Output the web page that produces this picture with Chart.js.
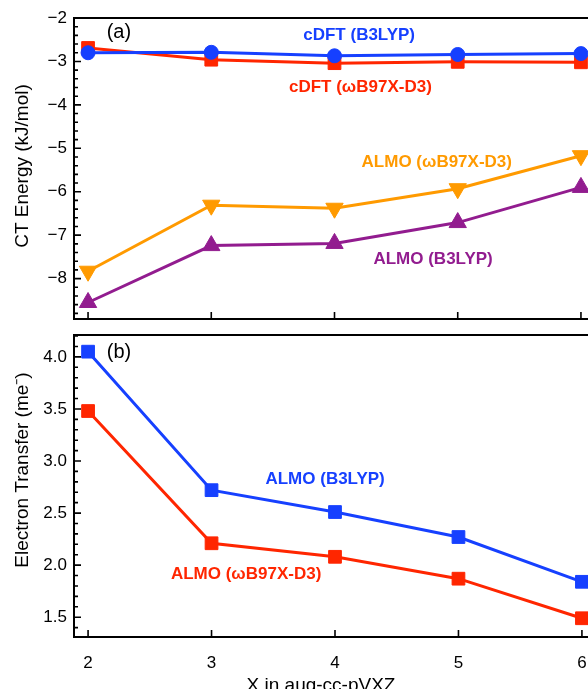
<!DOCTYPE html>
<html lang="en">
  <head>
    <meta charset="UTF-8" />
    <title>CT energy and electron transfer</title>
    <style>
      body {
        margin: 0;
        background: #fff;
        overflow: hidden;
      }
      #wrap {
        position: relative;
        width: 588px;
        height: 689px;
        overflow: hidden;
      }
      canvas {
        position: absolute;
        left: 0;
      }
      #top {
        top: 0;
      }
      #bot {
        top: 325px;
      }
    </style>
    <script src="https://cdn.jsdelivr.net/npm/chart.js"></script>
  </head>
  <body>
    <div id="wrap">
      <canvas id="top" width="606" height="330"></canvas>
      <canvas id="bot" width="606" height="364"></canvas>
    </div>
    <script>
      // basis set cardinal number X
      const basis = [2, 3, 4, 5, 6];
      // (a) CT energy, kJ/mol
      const cdftB3lyp = [-2.8, -2.79, -2.87, -2.84, -2.82];
      const cdftWb97 = [-2.69, -2.96, -3.04, -3.01, -3.02];
      const almoWb97 = [-7.83, -6.31, -6.38, -5.93, -5.17];
      const almoB3lyp = [-8.55, -7.24, -7.19, -6.71, -5.9];
      // (b) electron transfer, me-
      const etB3lyp = [4.05, 2.72, 2.51, 2.27, 1.84];
      const etWb97 = [3.48, 2.21, 2.08, 1.87, 1.49];

      const xTicks = [2, 3, 4, 5, 6];
      const energyTicks = [-8, -7, -6, -5, -4, -3, -2];
      const transferTicks = [1.5, 2.0, 2.5, 3.0, 3.5, 4.0];

      const BLUE = "#1640ff";
      const RED = "#ff2600";
      const ORANGE = "#ff9a00";
      const PURPLE = "#921c8f";
      const FONT = "'Liberation Sans', Arial, Helvetica, sans-serif";

      const pts = (ys) => basis.map((x, i) => ({ x, y: ys[i] }));

      const series = (data, color, style, radius, rotation) => ({
        data: pts(data),
        borderColor: color,
        backgroundColor: color,
        borderWidth: 3,
        pointStyle: style,
        pointRadius: radius,
        pointRotation: rotation || 0,
        pointBorderWidth: 1,
        pointBackgroundColor: color,
        pointBorderColor: color,
      });

      // frame, inward ticks, in-plot labels and axis titles
      const panelDecor = {
        id: "panelDecor",
        afterDraw(chart, args, opts) {
          const { ctx, chartArea: a } = chart;
          const x = chart.scales.x;
          const y = chart.scales.y;
          ctx.save();
          ctx.strokeStyle = "#000";
          ctx.lineWidth = 2;
          ctx.strokeRect(a.left, a.top, a.right - a.left, a.bottom - a.top);

          ctx.lineWidth = 1.6;
          ctx.beginPath();
          xTicks.forEach((v) => {
            const px = x.getPixelForValue(v);
            ctx.moveTo(px, a.bottom);
            ctx.lineTo(px, a.bottom - 7);
          });
          const step = opts.minorStep;
          for (let n = Math.ceil(y.min / step); n * step <= y.max + 1e-9; n++) {
            const v = n * step;
            const major = opts.majors.some((m) => Math.abs(m - v) < 1e-6);
            const py = y.getPixelForValue(v);
            ctx.moveTo(a.left, py);
            ctx.lineTo(a.left + (major ? 7 : 4), py);
          }
          ctx.stroke();

          ctx.textAlign = "center";
          ctx.textBaseline = "middle";
          opts.labels.forEach((l) => {
            ctx.fillStyle = l.color;
            ctx.font = l.font;
            ctx.fillText(l.text, x.getPixelForValue(l.x), y.getPixelForValue(l.y));
          });

          ctx.fillStyle = "#000";
          ctx.font = "19px " + FONT;
          opts.titles.forEach((t) => {
            ctx.save();
            ctx.translate(t.px, t.py);
            ctx.rotate(t.rot || 0);
            ctx.fillText(t.text, 0, 0);
            ctx.restore();
          });
          ctx.restore();
        },
      };

      const xScale = (show) => ({
        type: "linear",
        min: 1.886,
        max: 6.114,
        display: show,
        afterBuildTicks: (s) => {
          s.ticks = xTicks.map((v) => ({ value: v }));
        },
        afterFit: (s) => {
          s.height = show ? 52 : 0;
          s.paddingLeft = 0;
          s.paddingRight = 0;
        },
        grid: { display: false, drawTicks: false },
        border: { display: false },
        ticks: {
          color: "#000",
          padding: 16,
          maxRotation: 0,
          font: { family: FONT, size: 17 },
        },
      });

      const yScale = (min, max, tickList, fmt) => ({
        type: "linear",
        min,
        max,
        afterBuildTicks: (s) => {
          s.ticks = tickList.map((v) => ({ value: v }));
        },
        afterFit: (s) => {
          s.width = 74;
          s.paddingTop = 0;
          s.paddingBottom = 0;
        },
        grid: { display: false, drawTicks: false },
        border: { display: false },
        ticks: {
          color: "#000",
          padding: 7,
          font: { family: FONT, size: 17 },
          callback: fmt,
        },
      });

      const bold = "bold 17px " + FONT;
      const plain = "20px " + FONT;

      new Chart(document.getElementById("top"), {
        type: "line",
        data: {
          datasets: [
            series(cdftB3lyp, BLUE, "circle", 7),
            series(cdftWb97, RED, "rect", 9),
            series(almoWb97, ORANGE, "triangle", 10, 180),
            series(almoB3lyp, PURPLE, "triangle", 10),
          ],
        },
        options: {
          responsive: false,
          animation: false,
          layout: { padding: { top: 18, right: 5, bottom: 10, left: 0 } },
          scales: {
            x: xScale(false),
            y: yScale(-8.93, -2, energyTicks, (v) =>
              v < 0 ? "\u2212" + Math.abs(v) : String(v)
            ),
          },
          plugins: {
            legend: { display: false },
            tooltip: { enabled: false },
            panelDecor: {
              minorStep: 0.2,
              majors: energyTicks,
              labels: [
                { text: "(a)", x: 2.25, y: -2.34, color: "#000", font: plain },
                { text: "cDFT (B3LYP)", x: 4.2, y: -2.39, color: BLUE, font: bold },
                { text: "cDFT (\u03c9B97X-D3)", x: 4.21, y: -3.6, color: RED, font: bold },
                { text: "ALMO (\u03c9B97X-D3)", x: 4.83, y: -5.33, color: ORANGE, font: bold },
                { text: "ALMO (B3LYP)", x: 4.8, y: -7.55, color: PURPLE, font: bold },
              ],
              titles: [
                { text: "CT Energy (kJ/mol)", px: 23, py: 166, rot: -Math.PI / 2 },
              ],
            },
          },
        },
        plugins: [panelDecor],
      });

      new Chart(document.getElementById("bot"), {
        type: "line",
        data: {
          datasets: [
            series(etB3lyp, BLUE, "rect", 9),
            series(etWb97, RED, "rect", 9),
          ],
        },
        options: {
          responsive: false,
          animation: false,
          layout: { padding: { top: 5, right: 5, bottom: 0, left: 0 } },
          scales: {
            x: xScale(true),
            y: yScale(1.31, 4.21, transferTicks, (v) => v.toFixed(1)),
          },
          plugins: {
            legend: { display: false },
            tooltip: { enabled: false },
            panelDecor: {
              minorStep: 0.1,
              majors: transferTicks,
              labels: [
                { text: "(b)", x: 2.25, y: 4.04, color: "#000", font: plain },
                { text: "ALMO (B3LYP)", x: 3.92, y: 2.82, color: BLUE, font: bold },
                { text: "ALMO (\u03c9B97X-D3)", x: 3.28, y: 1.91, color: RED, font: bold },
              ],
              titles: [
                { text: "Electron Transfer (me\u207b)", px: 23, py: 145, rot: -Math.PI / 2 },
                { text: "X in aug-cc-pVXZ", px: 321, py: 361 },
              ],
            },
          },
        },
        plugins: [panelDecor],
      });
    </script>
  </body>
</html>
